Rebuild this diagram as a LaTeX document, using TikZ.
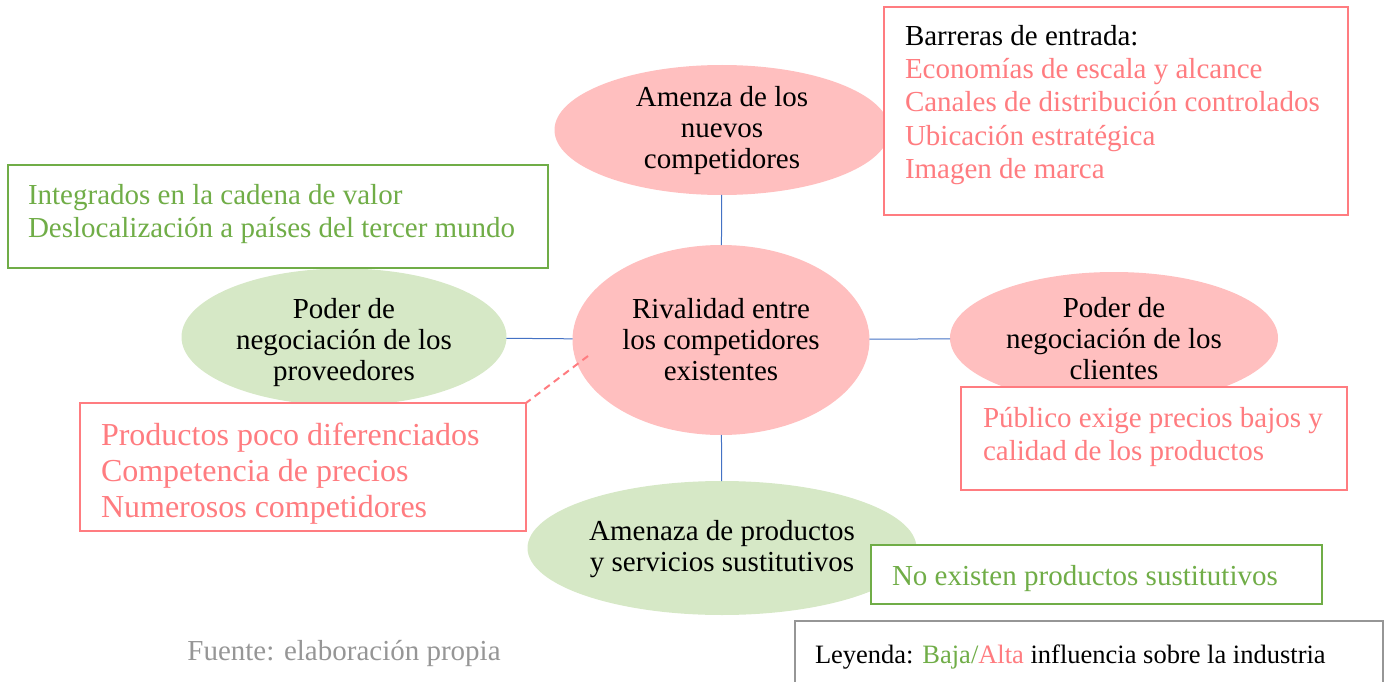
\documentclass[tikz,border=0pt]{standalone}
\usepackage{fontspec}
\setmainfont{Liberation Serif}
\usetikzlibrary{shapes.geometric,positioning}
\definecolor{altafill}{RGB}{255,191,191}
\definecolor{altaline}{RGB}{255,124,128}
\definecolor{bajafill}{RGB}{214,232,198}
\definecolor{bajaline}{RGB}{112,173,71}
\definecolor{linkblue}{RGB}{68,114,196}
\definecolor{fuentegray}{RGB}{150,150,150}
\tikzstyle{every node}+=[inner sep=0pt,outer sep=0pt]
\tikzstyle{force}=[ellipse,draw=none]
\tikzstyle{alta}=[force,fill=altafill]
\tikzstyle{baja}=[force,fill=bajafill]
\tikzstyle{forcetext}=[align=center,font=\fontsize{29}{31}\selectfont]
\tikzstyle{notebox}=[rectangle,line width=2.8pt,fill=white,anchor=north west]
\tikzstyle{notetext}=[align=left,anchor=west,font=\fontsize{29}{33.3}\selectfont]
\tikzstyle{link}=[draw=linkblue,line width=1pt]
\newcommand{\drawlinks}[2][link]{
	\foreach \a/\b in {#2}{
		\draw[#1] (\a) -- (\b);
	}
}

\begin{document}
\begin{tikzpicture}[x=1pt,y=-1pt]
	\useasboundingbox (0,0) rectangle (1387,682);
	% the five forces
	\node[alta,minimum width=335,minimum height=130] (nuevos) at (722,130) {};
	\node[baja,minimum width=325,minimum height=137] (prov) at (344,337) {};
	\node[alta,minimum width=297,minimum height=190] (rival) at (721,340) {};
	\node[alta,minimum width=328,minimum height=132] (clien) at (1114,338) {};
	\node[baja,minimum width=389,minimum height=134] (sust) at (722,548) {};
	\node[forcetext] (nuevos-t) at (722,131) {Amenza de los\\nuevos\\competidores};
	\node[forcetext] (prov-t) at (344,343) {Poder de\\negociación de los\\proveedores};
	\node[forcetext] (rival-t) at (rival.center) {Rivalidad entre\\los competidores\\existentes};
	\node[forcetext] (clien-t) at (1114,339) {Poder de\\negociación de los\\clientes};
	\node[forcetext] (sust-t) at (722,549) {Amenaza de productos\\y servicios sustitutivos};
	\drawlinks{nuevos/rival,prov/rival,rival/clien,rival/sust};
	\coordinate (rival-in) at (588,356);
	% notes
	\node[notebox,draw=altaline,minimum width=464,minimum height=208] (barreras) at (884,7) {};
	\node[notetext] (barreras-t) at (905,105) {Barreras de entrada:\\
		\textcolor{altaline}{Economías de escala y alcance}\\
		\textcolor{altaline}{Canales de distribución controlados}\\
		\textcolor{altaline}{Ubicación estratégica}\\
		\textcolor{altaline}{Imagen de marca}};
	\node[notebox,draw=bajaline,minimum width=540,minimum height=103] (cadena) at (8,165) {};
	\node[notetext,text=bajaline] (cadena-t) at (28,214) {Integrados en la cadena de valor\\Deslocalización a países del tercer mundo};
	\node[notebox,draw=altaline,minimum width=446,minimum height=128] (precios) at (80,403) {};
	\node[notetext,text=altaline,font=\fontsize{32}{36}\selectfont] (precios-t) at (101,474) {Productos poco diferenciados\\Competencia de precios\\Numerosos competidores};
	\draw[altaline,line width=2pt,dash pattern=on 7pt off 5pt] (rival-in) -- (precios.north east);
	\node[notebox,draw=altaline,minimum width=386,minimum height=103] (publico) at (961,387) {};
	\node[notetext,text=altaline] (publico-t) at (983,437) {Público exige precios bajos y\\calidad de los productos};
	\node[notebox,draw=bajaline,minimum width=451,minimum height=59] (nosust) at (871,545) {};
	\node[notetext,text=bajaline] (nosust-t) at (892,579) {No existen productos sustitutivos};
	% legend and source
	\node[notebox,draw=fuentegray,line width=2pt,minimum width=588,minimum height=75] (leyenda) at (795,621) {};
	\node[notetext,font=\fontsize{26.5}{30}\selectfont] (leyenda-t) at (815,657) {Leyenda: \textcolor{bajaline}{Baja/}\textcolor{altaline}{Alta} influencia sobre la industria};
	\node[text=fuentegray,font=\fontsize{29}{31}\selectfont] (fuente) at (344,653) {Fuente: elaboración propia};
\end{tikzpicture}
\end{document}
